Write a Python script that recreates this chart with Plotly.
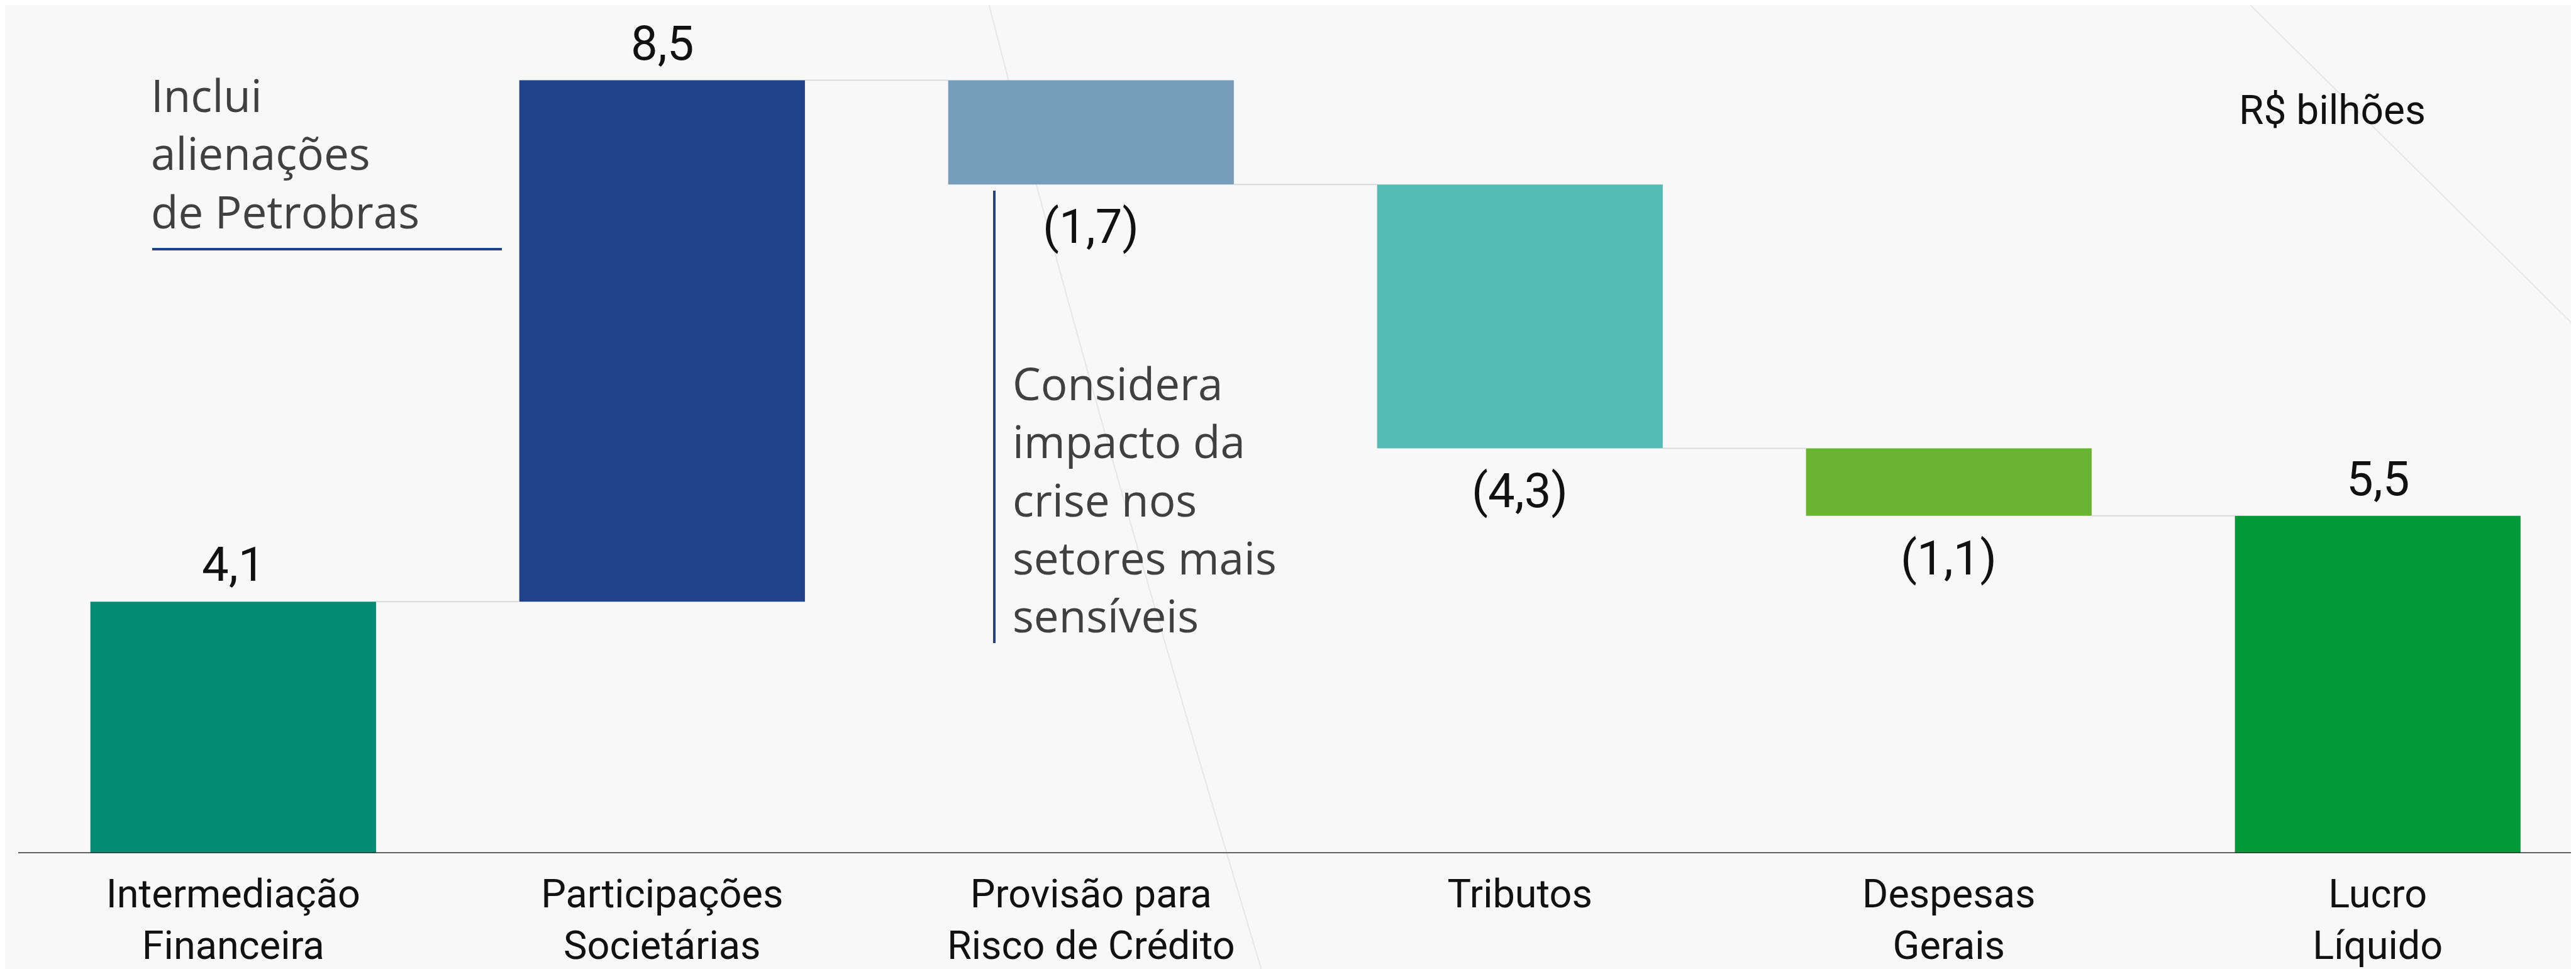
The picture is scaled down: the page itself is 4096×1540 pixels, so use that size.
import plotly.graph_objects as go

# ---- data ----
categories = ["Intermediação<br>Financeira", "Participações<br>Societárias",
              "Provisão para<br>Risco de Crédito", "Tributos",
              "Despesas<br>Gerais", "Lucro<br>Líquido"]
values = [4.1, 8.5, -1.7, -4.3, -1.1, 5.5]
measures = ["relative", "relative", "relative", "relative", "relative", "total"]
colors = ["#008C72", "#1F428A", "#769EBA", "#54BBB5", "#69B431", "#009A38"]
note1_lines = ["Inclui", "alienações", "de Petrobras"]
note2_lines = ["Considera", "impacto da", "crise nos", "setores mais", "sensíveis"]
unit_label = "R$ bilhões"

NARROW = "Liberation Sans Narrow, Arial Narrow, Roboto, sans-serif"
NOTE_FONT = "Open Sans, Lato, sans-serif"

# waterfall bases from the data
bases, ends = [], []
running = 0.0
for v, m in zip(values, measures):
    if m == "total":
        bases.append(0.0)
        running = v
    else:
        bases.append(running)
        running = running + v
    ends.append(running)

def fmt(v):
    s = f"{abs(v):.1f}".replace(".", ",")
    return f"({s})" if v < 0 else s

x = list(range(len(categories)))
W = 0.666

fig = go.Figure()
fig.add_trace(go.Bar(
    x=x, y=values, base=bases, width=W,
    marker=dict(color=colors, line=dict(width=0)),
    hoverinfo="skip", showlegend=False,
))

# connectors
cx, cy = [], []
for i in range(len(values) - 1):
    lvl = ends[i]
    cx += [i + W / 2, i + 1 - W / 2, None]
    cy += [lvl, lvl, None]
fig.add_trace(go.Scatter(x=cx, y=cy, mode="lines",
                         line=dict(color="#d9d9d9", width=2),
                         hoverinfo="skip", showlegend=False))

annotations = []
for i, v in enumerate(values):
    top = max(bases[i], bases[i] + v)
    bot = min(bases[i], bases[i] + v)
    if v >= 0:
        annotations.append(dict(x=i, y=top, xref="x", yref="y", text=fmt(v),
                                showarrow=False, yanchor="bottom", yshift=12,
                                font=dict(family=NARROW, size=76, color="#111111")))
    else:
        annotations.append(dict(x=i, y=bot, xref="x", yref="y", text=fmt(v),
                                showarrow=False, yanchor="top", yshift=-20,
                                font=dict(family=NARROW, size=76, color="#111111")))

# notes
annotations.append(dict(x=230 / 4096, y=1 - 92 / 1348, xref="paper", yref="paper",
                        xanchor="left", yanchor="top", align="left",
                        text="<br>".join(note1_lines), showarrow=False,
                        font=dict(family=NOTE_FONT, size=71, color="#404040")))
annotations.append(dict(x=1600 / 4096, y=1 - 550 / 1348, xref="paper", yref="paper",
                        xanchor="left", yanchor="top", align="left",
                        text="<br>".join(note2_lines), showarrow=False,
                        font=dict(family=NOTE_FONT, size=71, color="#404040")))
annotations.append(dict(x=3550 / 4096, y=1 - 128 / 1348, xref="paper", yref="paper",
                        xanchor="left", yanchor="top", align="left",
                        text=unit_label, showarrow=False,
                        font=dict(family=NARROW, size=64, color="#111111")))

shapes = [
    # faint paper texture strokes
    dict(type="path", xref="paper", yref="paper", layer="below",
         path="M 0.382 1 Q 0.42 0.55 0.488 -0.14",
         line=dict(color="#e6e6e6", width=2)),
    dict(type="line", xref="paper", yref="paper", layer="below",
         x0=3570 / 4096, y0=1, x1=1, y1=1 - 520 / 1348,
         line=dict(color="#e6e6e6", width=2)),
    # baseline axis
    dict(type="line", xref="paper", yref="y", x0=21 / 4096, x1=1, y0=0, y1=0,
         line=dict(color="#333333", width=3)),
    # note underline
    dict(type="line", xref="paper", yref="paper", x0=234 / 4096, x1=790 / 4096,
         y0=1 - 388 / 1348, y1=1 - 388 / 1348, line=dict(color="#1F428A", width=4)),
    # note vertical bar
    dict(type="line", xref="paper", yref="paper", x0=1573 / 4096, x1=1573 / 4096,
         y0=1 - 295 / 1348, y1=1 - 1014 / 1348, line=dict(color="#1F428A", width=4)),
]

fig.update_layout(
    width=4096, height=1540,
    margin=dict(l=0, r=0, t=0, b=192),
    paper_bgcolor="#f8f8f8", plot_bgcolor="#f8f8f8",
    annotations=annotations, shapes=shapes,
    xaxis=dict(range=[-0.532, 5.474], tickmode="array", tickvals=x, ticktext=categories,
               showgrid=False, zeroline=False, showline=False, ticks="",
               ticklabelstandoff=22,
               tickfont=dict(family=NARROW, size=63, color="#111111"), fixedrange=True),
    yaxis=dict(range=[0, 1348 / 97.5], visible=False, showgrid=False, zeroline=False,
               fixedrange=True),
)

fig.write_html("out.html")
